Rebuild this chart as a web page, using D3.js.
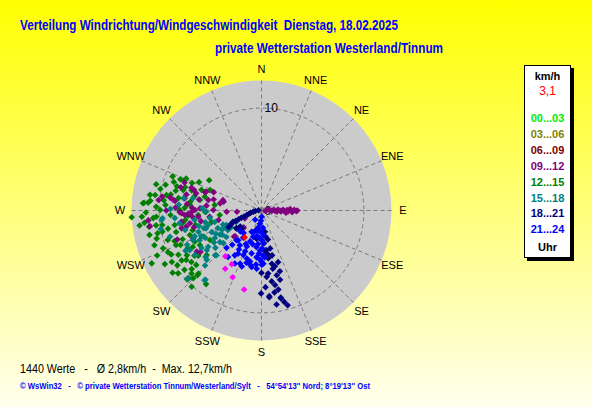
<!DOCTYPE html>
<html><head><meta charset="utf-8">
<script src="https://cdn.jsdelivr.net/npm/d3@7"></script>
<style>body{margin:0;padding:0;overflow:hidden}svg{display:block}text{font-family:"Liberation Sans",Arial,sans-serif;white-space:pre}</style>
</head><body>
<script>
// ---------- DATA ----------
const directions = ["N","NNE","NE","ENE","E","ESE","SE","SSE","S","SSW","SW","WSW","W","WNW","NW","NNW"];
const ringValues = [0, 10];
const maxSpeed = 12.7;
const legendTitle = "km/h";
const currentSpeedLabel = "3,1";
const legendLabels = ["00...03","03...06","06...09","09...12","12...15","15...18","18...21","21...24"];
const legendColors = ["#00ee00","#808000","#800000","#800080","#008000","#008080","#000080","#0000ff"];
const legendFooter = "Uhr";
const titleLine1 = "Verteilung Windrichtung/Windgeschwindigkeit  Dienstag, 18.02.2025";
const titleLine2 = "private Wetterstation Westerland/Tinnum";
const statsText = "1440 Werte   -   Ø 2,8km/h  -  Max. 12,7km/h";
const footerText = "© WsWin32   -   © private Wetterstation Tinnum/Westerland/Sylt   -   54°54'13'' Nord; 8°19'13'' Ost";

// [direction in degrees, speed km/h]
const h00_03 = [];
const h03_06 = [];
const h06_09 = [];
const h09_12 = [
 [95,0.4],[80,0.6],[88,0.8],[92,1.0],[86,1.2],[91,1.3],[94,1.5],[87,1.6],[90,1.8],[93,1.9],[88,2.1],[91,2.2],[95,2.4],[89,2.5],[92,2.6],[87,2.8],[90,2.9],[93,3.0],[89,3.2],[91,3.4],[90,3.5],
 [278,9.8],[265,11.1],[262,11.0],[277,8.7],[268.9,8.0],[267.3,7.2],[270.4,6.5],[258,7.5],[251,8.7],[279,7.6],[272.3,6.8],
 [288,7.2],[288,5.8],[284.7,6.6],[291,5.0],[285,3.9],[279.8,4.1],[281.2,5.3],[272,6.0],[270.6,4.7],[263,5.1],[264.4,6.2],
 [257.6,4.3],[268,3.4],[226.4,3.7],[225.6,2.5],[237.6,7.5],[244.7,1.8],[288.7,5.7],[283,3.8],[267,2.4],[225.3,3.6],[235.9,7.2],
 [226.6,2.4],[275.8,10.1],[276.3,8.5],[269,6.8],[266.6,7.5],[259.9,7.1],[257.4,8.0],[247.8,7.2],
 [282,7.5],[286,8.2],[280,6.2],[275,7.3],[272,8.4],[268,7.8],[265,6.8],[262,7.9],[260,6.0],[256,6.8],[275,5.4],[283,4.8],
 [278,9.0],[270,9.3],[287,6.9],[290,8.0]
];
const h12_15 = [
 [291,9.3],[291,8.5],[291,8.1],[285,9.7],[282,10.1],[283,8.6],[287,7.8],[286,7.1],[275,10.9],[273.5,11.6],[274,11.1],
 [267,12.7],[267,11.7],[266,10.6],[266.6,10.3],[261.7,9.8],[261.8,11.1],[257.7,11.2],[257.6,10.4],[259,9.3],[252.5,9.6],
 [250.7,9.0],[246,10.0],[246.7,11.1],[244.3,11.9],[242,9.2],[239,8.5],[237,9.8],[232.4,9.5],[233,10.2],[227,9.7],[222.5,10.1],
 [294.4,6.7],[300,5.9],[283.7,5.7],[245,7.2],[231,6.9],[225,8.7],[217,9.0],[234.4,7.6],[233.7,8.5],[225.2,9.4],[245.8,6.2],
 [273.8,11.5],[227.2,9.9],[224.7,8.9],
 [279.7,6.1],[274.4,7.0],[270.4,8.0],[262.9,7.5],[257.7,6.6],[260.5,8.6],[251.1,7.4],[240.7,6.9],[247,8.6],[267.2,8.9],
 [278.5,8.2],[273.3,9.4],[270.3,9.9],[291.7,5.4],[276.7,4.6],[263.8,4.1],[240.2,5.8],[236.7,8.8],[230.2,8.3],[240.1,10.1],
 [243,8.1],[255.9,8.6],[279.2,9.4],[291.6,7.3],[268.5,5.5],[256.9,5.0],[265.9,6.2],[284.6,7.9],[278.3,10.5],
 [288,9.0],[284,10.6],[280,9.0],[276,9.6],[272,10.3],[269,11.3],[264,11.5],[262,10.4],[258,9.9],[255,10.6],[252,11.0],
 [249,10.3],[248,9.0],[244,9.8],[241,10.8],[238,9.2],[235,10.6],[230,8.9],[228,9.2],[236,7.9],[242,7.6],[250,8.2],
 [254,7.0],[261,7.8],[266,7.2],[272,7.5],[277,7.0],[282,6.7],[289,6.2],[293,8.0],[286,8.6],[278,11.0],[263,12.0]
];
const h15_18 = [
 [274,8.1],[279,7.7],[259.6,10.0],[265.5,9.7],[271,8.9],[261.1,8.1],[254,9.3],[245.2,8.0],[241.1,8.0],[227.4,9.8],
 [280.1,6.8],[272.1,5.8],[226,6.3],[225.7,7.7],[219,8.7],[236.2,7.8],[229.4,4.9],[244,4.3],[247.4,3.7],[248.3,3.0],
 [264.6,9.8],[268.8,5.4],[253,5.9],[244.4,6.7],[235.8,6.3],[225.2,6.2],[230.2,7.1],[233,4.3],[219.2,8.8],
 [246.5,5.3],[248.1,4.6],[239.4,5.3],[238.2,4.5],[254.8,5.4],[244,6.1],[239.8,3.8],[245.7,2.7],[261.7,5.1],[251.3,6.5],
 [256.1,4.7],[232.8,5.1],[246.7,7.3],[255.7,7.7],[265,8.5],
 [250,4.0],[243,5.0],[240,4.7],[236,5.6],[252,5.7],[247,6.4],[241,3.4],[238,6.9],[256,6.3],[249,7.0],[234,6.6],[231,5.8],
 [244,3.9],[258,5.6],[262,6.6],[242,8.4],[228,7.2]
];
const h18_21 = [
 [275,0.3],[265,0.6],[262,0.8],[258,1.1],[255,1.3],[253,1.5],[251,1.8],[250,2.1],[249,2.4],[248,2.7],[248,3.0],[246,3.2],
 [245,3.4],[243,3.6],[235,3.0],[233,2.6],[228,2.6],
 [195.8,2.0],[170.9,2.6],[234.3,3.0],[175,4.0],[171.9,4.7],[169,5.3],[166.5,5.6],[163.2,6.2],[166.7,6.5],[180,6.1],[175.5,6.5],
 [171.8,7.0],[169.7,7.4],[168,7.9],[180.3,8.1],[174.8,8.5],[167.5,8.8],[166,9.2],[170.9,9.3],[164.6,9.6],
 [170.8,2.1],[167.6,2.9],[167.2,3.8],[173.5,3.9],[166.7,4.5],[162.2,5.3],[175.6,3.2],[189.8,2.8],[174.8,8.4],[167.5,8.7],
 [172,4.3],[169,5.8],[174,6.2],[165,7.0],[177,7.5],[171,8.1]
];
const h21_24 = [
 [186.7,1.3],[178,0.6],[191.3,1.7],[181.3,2.1],[190,2.5],[179,2.9],[186,3.3],[179.2,3.7],[183.4,4.2],[178.1,4.4],[181.7,4.8],
 [178,5.2],[185.8,5.3],[214.4,1.1],[175.1,1.7],[199.2,2.2],
 [218,3.7],[210.8,5.1],[199.4,5.8],[191.9,5.4],[184.7,5.7],[201.8,4.3],[200.2,3.2],[204.8,2.3],[225.4,2.9],[215.7,5.6],
 [220,3.8],[206.7,5.8],[202.2,4.7],[211.9,4.0],[192.7,5.1],[189.9,5.6],[179.8,5.3],[197.4,2.7],[202.2,3.8],[208.5,4.8],
 [218.6,2.8],[220.5,4.4],[197,4.9],[201.9,5.6],[223.1,5.0],
 [183,1.0],[188,2.0],[176,2.4],[184,2.7],[177,3.2],[188,3.6],[182,3.9],[176,4.6],[186,4.6],[180,5.0],[195,3.4],[205,3.6],
 [210,4.4],[214,3.2],[193,4.3],[196,5.3]
];
const extraPoints = [[218.3,5.7],[211.9,6.7],[209,6.0],[203.4,7.1],[192.4,7.9]];
const currentValue = [[212,3.1]];

// ---------- DRAW ----------
const W = 592, H = 407;
const svg = d3.select("body").append("svg").attr("width", W).attr("height", H);
const defs = svg.append("defs");
const grad = defs.append("linearGradient").attr("id","bg").attr("x1",0).attr("y1",0).attr("x2",0).attr("y2",1);
grad.append("stop").attr("offset","0%").attr("stop-color","#ffff00");
grad.append("stop").attr("offset","100%").attr("stop-color","#ffffee");
svg.append("rect").attr("width",W).attr("height",H).attr("fill","url(#bg)");

const cx = 261.5, cy = 210.5, R = 130;
const r = d3.scaleLinear().domain([0, maxSpeed]).range([0, R]);
const ang = d3.scaleLinear().domain([0, 360]).range([0, 2*Math.PI]);
const g = svg.append("g").attr("transform", `translate(${cx},${cy})`);

g.append("circle").attr("r", R).attr("fill", "#cbcbcb");

// radial grid
g.selectAll(".spoke").data(directions).join("line")
 .attr("x1",0).attr("y1",0)
 .attr("x2",(d,i)=> R*Math.sin(ang(i*22.5)))
 .attr("y2",(d,i)=> -R*Math.cos(ang(i*22.5)))
 .attr("stroke","#7a7a7a").attr("stroke-width",1).attr("stroke-dasharray","4,3");

g.selectAll(".ring").data(ringValues.filter(v=>v>0)).join("circle")
 .attr("r", d=>r(d)).attr("fill","none").attr("stroke","#7a7a7a").attr("stroke-dasharray","4,3");

g.selectAll(".ringlab").data(ringValues).join("text")
 .attr("x",3).attr("y",d=>-r(d)).attr("dy","0.35em")
 .attr("font-size",12).attr("fill","#000").text(d=>d);

// compass labels
g.selectAll(".dir").data(directions).join("text")
 .attr("x",(d,i)=> 141.5*Math.sin(ang(i*22.5)))
 .attr("y",(d,i)=> -141.5*Math.cos(ang(i*22.5)))
 .attr("dy","0.36em").attr("text-anchor","middle")
 .attr("font-size",11).attr("fill","#000").text(d=>d);

// points
const diamond = { draw(ctx, size){ const s = Math.sqrt(size)/2; ctx.moveTo(0,-s); ctx.lineTo(s,0); ctx.lineTo(0,s); ctx.lineTo(-s,0); ctx.closePath(); } };
const sym = d3.symbol().type(diamond).size(44);
const series = [
 {data:h00_03, color:legendColors[0]},
 {data:h03_06, color:legendColors[1]},
 {data:h06_09, color:legendColors[2]},
 {data:h12_15, color:legendColors[4]},
 {data:h09_12, color:legendColors[3]},
 {data:h15_18, color:legendColors[5]},
 {data:h18_21, color:legendColors[6]},
 {data:h21_24, color:legendColors[7]},
 {data:extraPoints, color:"#ff00ff"},
 {data:currentValue, color:"#ff0000"}
];
series.forEach(s=>{
  g.append("g").selectAll("path").data(s.data).join("path")
   .attr("d", sym)
   .attr("transform", d=>`translate(${r(d[1])*Math.sin(ang(d[0]))},${-r(d[1])*Math.cos(ang(d[0]))})`)
   .attr("fill", s.color);
});

// titles
svg.append("text").attr("x",20).attr("y",30).attr("font-size",14).attr("font-weight","bold")
 .attr("fill","#0000ff").attr("textLength",378).attr("lengthAdjust","spacingAndGlyphs").text(titleLine1);
svg.append("text").attr("x",215).attr("y",53).attr("font-size",14).attr("font-weight","bold")
 .attr("fill","#0000ff").attr("textLength",228).attr("lengthAdjust","spacingAndGlyphs").text(titleLine2);

// legend
const lx = 524, ly = 65, lw = 47, lh = 193;
svg.append("rect").attr("x",lx+3).attr("y",ly+3).attr("width",lw).attr("height",lh).attr("fill","#000");
svg.append("rect").attr("x",lx+0.5).attr("y",ly+0.5).attr("width",lw-1).attr("height",lh-1).attr("fill","#fff").attr("stroke","#000");
const lcx = lx + lw/2;
svg.append("text").attr("x",lcx).attr("y",80).attr("text-anchor","middle").attr("font-size",11).attr("font-weight","bold").text(legendTitle);
svg.append("text").attr("x",lcx).attr("y",94.5).attr("text-anchor","middle").attr("font-size",12).attr("fill","#ff0000").text(currentSpeedLabel);
svg.selectAll(".leg").data(legendLabels).join("text")
 .attr("x",lcx).attr("y",(d,i)=>122 + i*15.9).attr("text-anchor","middle")
 .attr("font-size",11).attr("font-weight","bold").attr("fill",(d,i)=>legendColors[i]).text(d=>d);
svg.append("text").attr("x",lcx).attr("y",251).attr("text-anchor","middle").attr("font-size",11).attr("font-weight","bold").text(legendFooter);

// bottom texts
svg.append("text").attr("x",20).attr("y",373).attr("font-size",12).attr("fill","#000")
 .attr("textLength",212).attr("lengthAdjust","spacingAndGlyphs").text(statsText);
svg.append("text").attr("x",20).attr("y",389).attr("font-size",8.5).attr("font-weight","bold").attr("fill","#0000ff")
 .attr("textLength",350).attr("lengthAdjust","spacingAndGlyphs").text(footerText);
</script>
</body></html>
